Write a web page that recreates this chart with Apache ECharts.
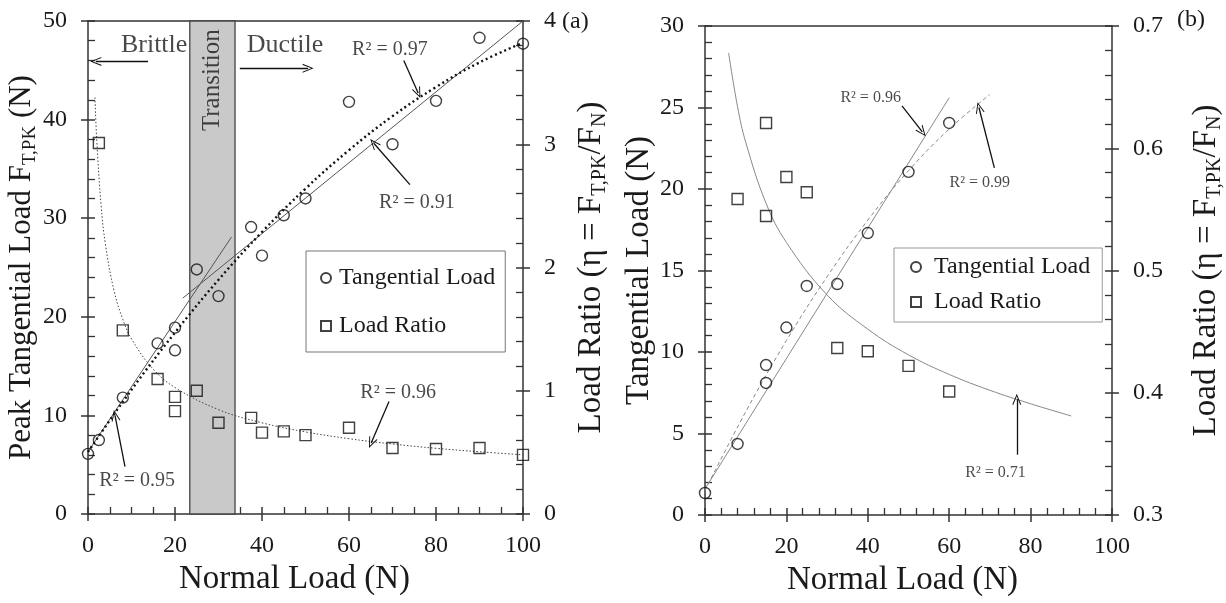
<!DOCTYPE html>
<html>
<head>
<meta charset="utf-8">
<script src="https://cdn.jsdelivr.net/npm/echarts@6/dist/echarts.min.js"></script>
<style>
  html, body { margin: 0; padding: 0; background: #fff; }
  #chart { width: 1226px; height: 603px; }
</style>
</head>
<body>
<div id="chart"></div>
<script>
// ---------- Panel (a) ----------
const normalLoadA = [0, 2.5, 8, 16, 20, 20, 25, 30, 37.5, 40, 45, 50, 60, 70, 80, 90, 100];
const tangentialA = [6.1, 7.5, 11.8, 17.3, 18.9, 16.6, 24.8, 22.1, 29.1, 26.2, 30.3, 32.0, 41.8, 37.5, 41.9, 48.3, 47.7];
const ratioLoadA = [2.5, 8, 16, 20, 20, 25, 30, 37.5, 40, 45, 50, 60, 70, 80, 90, 100];
const ratioA = [3.01, 1.49, 1.095, 0.95, 0.835, 1.0, 0.74, 0.78, 0.66, 0.67, 0.64, 0.70, 0.535, 0.527, 0.535, 0.48];
const transitionRange = [23.4, 33.8];

// trend lines of panel (a), [normal load, value]
const fitBrittleA = [[0, 6.3], [33, 28.1]];
const fitDuctileA = [[21.8, 21.9], [100, 50]];
const fitPolyA = [[0, 6.3], [10, 12.6], [20, 18.4], [30, 23.75], [40, 28.6], [50, 33.0], [60, 36.9], [70, 40.35], [80, 43.3], [90, 45.8], [100, 47.8]];
const fitRatioA = [[1.6, 3.38], [2, 3.04], [3, 2.51], [4, 2.19], [6, 1.81], [8, 1.58], [10, 1.42], [15, 1.175], [20, 1.026], [30, 0.847], [40, 0.74], [50, 0.666], [60, 0.611], [70, 0.568], [80, 0.533], [90, 0.505], [100, 0.48]];

// ---------- Panel (b) ----------
const normalLoadB = [0, 8, 15, 15, 20, 25, 32.5, 40, 50, 60];
const tangentialB = [1.35, 4.36, 9.2, 8.1, 11.5, 14.05, 14.17, 17.3, 21.05, 24.05];
const ratioLoadB = [8, 15, 15, 20, 25, 32.5, 40, 50, 60];
const ratioB = [0.5585, 0.6207, 0.5446, 0.5765, 0.564, 0.4366, 0.434, 0.422, 0.401];

// trend lines of panel (b)
const fitLinearB = [[0, 1.6], [60, 25.6]];
const fitPolyB = [[0, 1.5], [10, 6.33], [20, 10.7], [30, 14.62], [40, 18.09], [50, 21.12], [60, 23.68], [70, 25.8]];
const fitRatioB = [[5.8, 0.678], [8, 0.634], [10, 0.605], [15, 0.555], [20, 0.523], [30, 0.48], [40, 0.452], [50, 0.431], [60, 0.415], [70, 0.402], [80, 0.391], [90, 0.381]];

// axis scales
const xScale = [0, 100, 20];
const yScaleA = [0, 50, 10];
const rScaleA = [0, 4, 1];
const yScaleB = [0, 30, 5];
const rScaleB = [0.3, 0.7, 0.1];

const FONT = 'Liberation Serif';
const AX = '#333';
const TXT = '#1a1a1a';

const zip = (xs, ys) => xs.map((x, i) => [x, ys[i]]);

function axisBase(kind, grid, position, scale, minorSplit, name, nameGap, nameSize, fmt, namePad) {
  return {
    type: 'value', gridIndex: grid, position,
    min: scale[0], max: scale[1], interval: scale[2],
    axisLine: { show: true, onZero: false, lineStyle: { color: AX, width: 1.5 } },
    axisTick: { show: true, inside: true, length: 7, lineStyle: { color: AX, width: 1.5 } },
    minorTick: { show: true, splitNumber: minorSplit, length: 7, lineStyle: { color: AX, width: 1.3 } },
    axisLabel: { margin: kind === 'x' ? 20 : 21, fontSize: 24, color: TXT, fontFamily: FONT, formatter: fmt },
    splitLine: { show: false }, minorSplitLine: { show: false },
    name, nameLocation: 'middle', nameGap,
    nameTextStyle: {
      fontSize: nameSize, fontFamily: FONT, color: TXT, padding: namePad || 0,
      rich: {
        m: { fontSize: nameSize, fontFamily: FONT, color: TXT, lineHeight: nameSize + 4 },
        s: { fontSize: Math.round(nameSize * 0.6), fontFamily: FONT, color: TXT, lineHeight: Math.round(nameSize * 0.45), verticalAlign: 'bottom' }
      }
    }
  };
}
// major ticks on the outer side of an axis
function outerTicks(grid, position, scale) {
  return {
    type: 'value', gridIndex: grid, position,
    min: scale[0], max: scale[1], interval: scale[2],
    axisLine: { show: false, onZero: false },
    axisTick: { show: true, inside: false, length: 7, lineStyle: { color: AX, width: 1.5 } },
    minorTick: { show: false }, axisLabel: { show: false }, splitLine: { show: false }
  };
}
function frameLine(grid, position, scale) {
  return {
    type: 'value', gridIndex: grid, position,
    min: scale[0], max: scale[1], interval: scale[2],
    axisLine: { show: true, onZero: false, lineStyle: { color: AX, width: 1.5 } },
    axisTick: { show: false }, axisLabel: { show: false }, splitLine: { show: false }
  };
}

const fmt1 = v => v.toFixed(1);
const fmt0 = v => String(Math.round(v));

const xAxis = [
  axisBase('x', 0, 'bottom', xScale, 4, 'Normal Load (N)', 46, 33, fmt0, [0, 22, 0, 0]),
  outerTicks(0, 'bottom', xScale),
  frameLine(0, 'top', xScale),
  axisBase('x', 1, 'bottom', xScale, 5, 'Normal Load (N)', 46, 33, fmt0, [0, 12, 0, 0]),
  outerTicks(1, 'bottom', xScale),
  frameLine(1, 'top', xScale)
];
const yAxis = [
  axisBase('y', 0, 'left', yScaleA, 5, '{m|Peak Tangential Load F}{s|T,PK}{m| (N)}', 40, 31, fmt0),
  outerTicks(0, 'left', yScaleA),
  axisBase('y', 0, 'right', rScaleA, 5, '{m|Load Ratio (η = F}{s|T,PK}{m|/F}{s|N}{m|)}', 50, 33, fmt0),
  outerTicks(0, 'right', rScaleA),
  axisBase('y', 1, 'left', yScaleB, 5, '{m|Tangential Load (N)}', 46, 33, fmt0),
  outerTicks(1, 'left', yScaleB),
  axisBase('y', 1, 'right', rScaleB, 5, '{m|Load Ratio (η = F}{s|T,PK}{m|/F}{s|N}{m|)}', 76, 33, fmt1),
  outerTicks(1, 'right', rScaleB)
];

// open arrow head, tip pointing up
const ARROW = 'path://M5,0L10,12L8.8,12L5,2.6L1.2,12L0,12Z';

function notes(xi, yi, items, arrows, fontSize) {
  return {
    type: 'scatter', xAxisIndex: xi, yAxisIndex: yi, z: 6, silent: true,
    symbolSize: 1, itemStyle: { color: 'rgba(0,0,0,0)' },
    label: { show: true, position: 'inside', formatter: '{b}', color: TXT, fontFamily: FONT, fontSize },
    data: items.map(it => ({ name: it[0], value: [it[1], it[2]], label: Object.assign({}, it[3] || {}) })),
    markLine: {
      silent: true, animation: false,
      symbol: ['none', ARROW], symbolSize: [9, 11],
      label: { show: false },
      lineStyle: { color: '#111', width: 1.3, type: 'solid' },
      data: arrows.map(a => [{ coord: a[0] }, { coord: a[1] }])
    }
  };
}

const markerStyle = { color: 'rgba(0,0,0,0)', borderColor: '#111', borderWidth: 1.4 };

const series = [
  // transition band
  {
    type: 'line', xAxisIndex: 0, yAxisIndex: 0, data: [], z: 1, silent: true,
    markArea: {
      silent: true,
      itemStyle: { color: '#c9c9c9', borderColor: '#444', borderWidth: 1.3 },
      data: [[{ xAxis: transitionRange[0] }, { xAxis: transitionRange[1] }]]
    }
  },
  // panel (a) trend lines
  { type: 'line', xAxisIndex: 0, yAxisIndex: 0, data: fitBrittleA, showSymbol: false, symbol: 'none', z: 3, silent: true,
    lineStyle: { color: '#555', width: 1 } },
  { type: 'line', xAxisIndex: 0, yAxisIndex: 0, data: fitDuctileA, showSymbol: false, symbol: 'none', z: 3, silent: true,
    lineStyle: { color: '#555', width: 1 } },
  { type: 'line', xAxisIndex: 0, yAxisIndex: 0, data: fitPolyA, showSymbol: false, symbol: 'none', smooth: 0.4, z: 3, silent: true,
    lineStyle: { color: '#111', width: 2.4, type: [2, 3] } },
  { type: 'line', xAxisIndex: 0, yAxisIndex: 2, data: fitRatioA, showSymbol: false, symbol: 'none', smooth: 0.4, z: 3, silent: true,
    lineStyle: { color: '#444', width: 1, type: [1.5, 2] } },
  // panel (a) data
  { name: 'Tangential Load', type: 'scatter', xAxisIndex: 0, yAxisIndex: 0, z: 5,
    data: zip(normalLoadA, tangentialA), symbol: 'circle', symbolSize: 11, itemStyle: markerStyle },
  { name: 'Load Ratio', type: 'scatter', xAxisIndex: 0, yAxisIndex: 2, z: 5,
    data: zip(ratioLoadA, ratioA), symbol: 'rect', symbolSize: 11, itemStyle: markerStyle },
  // panel (b) trend lines
  { type: 'line', xAxisIndex: 3, yAxisIndex: 4, data: fitLinearB, showSymbol: false, symbol: 'none', z: 3, silent: true,
    lineStyle: { color: '#888', width: 1 } },
  { type: 'line', xAxisIndex: 3, yAxisIndex: 4, data: fitPolyB, showSymbol: false, symbol: 'none', smooth: 0.4, z: 3, silent: true,
    lineStyle: { color: '#888', width: 1, type: [4, 3] } },
  { type: 'line', xAxisIndex: 3, yAxisIndex: 6, data: fitRatioB, showSymbol: false, symbol: 'none', smooth: 0.4, z: 3, silent: true,
    lineStyle: { color: '#888', width: 1 } },
  // panel (b) data
  { name: 'Tangential Load', type: 'scatter', xAxisIndex: 3, yAxisIndex: 4, z: 5,
    data: zip(normalLoadB, tangentialB), symbol: 'circle', symbolSize: 11, itemStyle: markerStyle },
  { name: 'Load Ratio', type: 'scatter', xAxisIndex: 3, yAxisIndex: 6, z: 5,
    data: zip(ratioLoadB, ratioB), symbol: 'rect', symbolSize: 11, itemStyle: markerStyle },
  // panel (a) annotations
  notes(0, 0, [
    ['Brittle', 15.2, 47.5, { fontSize: 26 }],
    ['Ductile', 45.3, 47.5, { fontSize: 26 }],
    ['Transition', 28.6, 44.0, { fontSize: 25, rotate: 90 }],
    ['R² = 0.97', 69.4, 47.1],
    ['R² = 0.91', 75.6, 31.6],
    ['R² = 0.96', 71.3, 12.3],
    ['R² = 0.95', 11.3, 3.4]
  ], [
    [[13.8, 45.9], [1.8, 45.9]],
    [[34.9, 45.2], [50.6, 45.2]],
    [[72.6, 46.0], [75.9, 42.7]],
    [[74.0, 33.4], [65.7, 37.6]],
    [[69.2, 11.4], [65.1, 7.2]],
    [[8.5, 4.8], [6.2, 10.0]]
  ], 20),
  // panel (b) annotations
  notes(3, 4, [
    ['R² = 0.96', 40.7, 25.6],
    ['R² = 0.99', 67.5, 20.4],
    ['R² = 0.71', 71.4, 2.6]
  ], [
    [[48.4, 25.1], [53.4, 23.5]],
    [[71.1, 21.3], [67.3, 25.0]],
    [[76.6, 3.7], [76.6, 7.1]]
  ], 16)
];

const legendItems = ['Tangential Load', 'Load Ratio'];

const option = {
  animation: false,
  backgroundColor: '#fff',
  textStyle: { fontFamily: FONT },
  grid: [
    { left: 88, right: 703, top: 21, bottom: 89 },
    { left: 705, right: 103, top: 26, bottom: 88 }
  ],
  xAxis, yAxis, series,
  legend: [
    { data: legendItems, orient: 'vertical', left: 306, top: 251,
      padding: [14, 10, 13, 14], itemGap: 22, itemWidth: 10, itemHeight: 10, selectedMode: false,
      borderColor: '#777', borderWidth: 1, backgroundColor: '#fff',
      textStyle: { fontSize: 24, fontFamily: FONT, color: TXT, lineHeight: 26, padding: [0, 0, 0, 3] } },
    { data: legendItems, orient: 'vertical', left: 894, top: 248,
      padding: [6, 12, 7, 16], itemGap: 9, itemWidth: 10, itemHeight: 10, selectedMode: false,
      borderColor: '#999', borderWidth: 1, backgroundColor: '#fff',
      textStyle: { fontSize: 24, fontFamily: FONT, color: TXT, lineHeight: 26, padding: [0, 0, 0, 8] } }
  ],
  graphic: [
    { type: 'text', left: 562, top: 10, style: { text: '(a)', font: '24px "Liberation Serif"', fill: TXT } },
    { type: 'text', left: 1177, top: 8, style: { text: '(b)', font: '24px "Liberation Serif"', fill: TXT } }
  ]
};

const chart = echarts.init(document.getElementById('chart'), null, { renderer: 'canvas' });
chart.setOption(option);
</script>
</body>
</html>
